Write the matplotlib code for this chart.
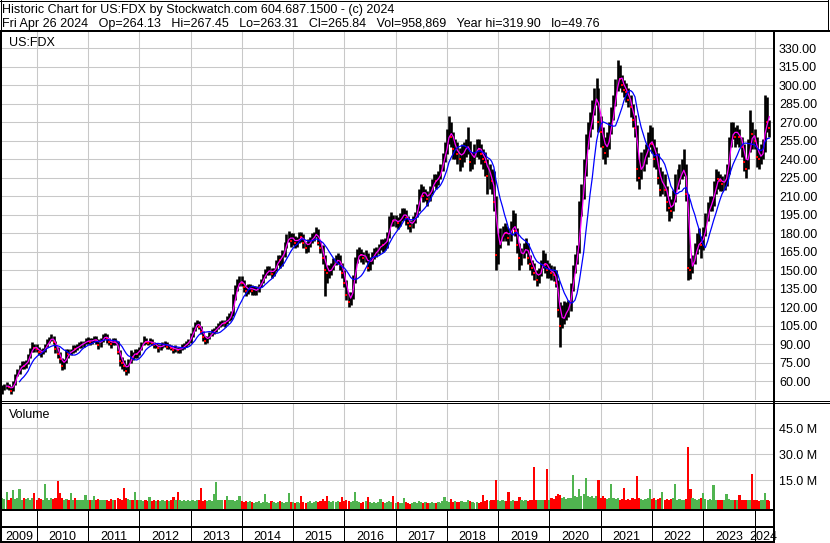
import numpy as np
import pandas as pd
import matplotlib
matplotlib.use("Agg")
import matplotlib.pyplot as plt
from matplotlib.lines import Line2D
from matplotlib.ticker import FuncFormatter

# semi-monthly bars (1st and 15th), May 2009 .. Apr 2024
dates = pd.date_range("2009-05-01", "2024-04-15", freq="SMS")

close = [
    55, 56, 57, 55, 52, 58, 65, 68, 71, 74, 72, 75, 80, 85, 89, 87,  # 2009
    86, 84, 83, 85, 88, 92, 94, 96, 92, 86, 82, 78, 72, 76, 84, 82, 84, 87, 86, 88, 90, 90, 91, 93,
    93, 92, 93, 95, 93, 89, 93, 96, 97, 94, 92, 90, 93, 92, 84, 76, 75, 72, 68, 76, 82, 80, 84, 82,
    86, 90, 94, 92, 91, 93, 91, 89, 89, 87, 88, 90, 91, 88, 88, 87, 85, 87, 85, 86, 88, 89, 91, 92,
    97, 102, 106, 108, 104, 100, 96, 93, 95, 98, 100, 101, 103, 105, 107, 108, 107, 110, 112, 114, 128, 135, 140, 142,
    140, 136, 133, 136, 136, 133, 134, 134, 137, 141, 145, 148, 150, 150, 147, 150, 156, 160, 158, 163, 170, 176, 178, 174,
    176, 172, 174, 178, 177, 172, 168, 172, 174, 177, 178, 182, 172, 168, 160, 150, 148, 150, 152, 156, 158, 160, 154, 148,
    140, 130, 124, 128, 142, 158, 162, 164, 162, 160, 162, 152, 158, 162, 164, 166, 168, 172, 170, 172, 178, 190, 192, 190,
    190, 188, 192, 196, 196, 192, 188, 186, 190, 194, 200, 212, 216, 210, 212, 208, 214, 220, 224, 222, 226, 232, 240, 248,
    256, 268, 258, 248, 250, 244, 240, 246, 248, 250, 252, 238, 240, 246, 252, 248, 244, 240, 238, 226, 228, 222, 205, 162,
    172, 178, 180, 182, 180, 176, 184, 190, 182, 170, 160, 162, 168, 170, 160, 155, 152, 148, 142, 148, 152, 160, 154, 150,
    150, 148, 146, 140, 118, 105, 112, 116, 118, 120, 135, 150, 158, 165, 198, 210, 230, 252, 262, 270, 280, 290, 296, 270,
    262, 250, 245, 255, 262, 275, 285, 298, 312, 305, 300, 296, 294, 288, 282, 272, 265, 232, 225, 238, 240, 246, 252, 258,
    252, 240, 240, 225, 215, 225, 215, 205, 200, 198, 210, 215, 225, 228, 230, 235, 212, 152, 150, 158, 165, 172, 175, 170,
    180, 192, 200, 204, 205, 215, 226, 224, 222, 220, 222, 230, 252, 262, 265, 258, 262, 258, 250, 238, 232, 248, 262, 260,
    255, 242, 240, 245, 248, 288, 270, 265,  # 2024
]

high = [
    57, 58, 59, 58, 56, 60, 66, 70, 73, 76, 76, 77, 82, 87, 92, 90,
    90, 88, 86, 87, 90, 94, 96, 98, 97, 93, 88, 84, 79, 78, 86, 86, 86, 89, 89, 90, 92, 93, 93, 95,
    96, 95, 95, 97, 97, 94, 95, 98, 99, 98, 95, 93, 95, 95, 93, 85, 80, 77, 74, 78, 85, 84, 86, 86,
    88, 92, 97, 95, 93, 95, 94, 92, 91, 90, 90, 92, 93, 92, 90, 89, 88, 89, 88, 88, 90, 91, 93, 94,
    99, 104, 108, 110, 109, 105, 101, 97, 97, 100, 102, 103, 105, 107, 109, 110, 110, 113, 115, 117, 131, 138, 143, 145,
    145, 142, 138, 139, 139, 138, 137, 137, 139, 143, 147, 151, 153, 153, 152, 152, 158, 162, 162, 166, 173, 179, 182, 180,
    180, 178, 177, 181, 181, 179, 173, 175, 177, 180, 181, 185, 183, 174, 170, 162, 154, 154, 156, 160, 162, 164, 162, 156,
    150, 142, 132, 132, 146, 161, 167, 169, 167, 165, 166, 164, 161, 165, 168, 169, 171, 175, 175, 176, 181, 194, 197, 195,
    195, 193, 196, 200, 200, 199, 194, 191, 194, 197, 204, 216, 220, 218, 216, 214, 218, 224, 228, 228, 230, 236, 245, 254,
    264, 275, 270, 262, 256, 254, 249, 252, 254, 256, 266, 255, 246, 252, 256, 256, 252, 248, 246, 240, 236, 232, 230, 210,
    180, 184, 186, 188, 186, 184, 190, 199, 196, 184, 172, 168, 172, 176, 172, 162, 158, 156, 150, 152, 158, 166, 164, 158,
    156, 154, 153, 150, 142, 124, 122, 125, 124, 126, 140, 154, 163, 170, 206, 220, 240, 260, 270, 278, 288, 298, 306, 298,
    275, 266, 258, 262, 270, 282, 292, 305, 320, 316, 308, 304, 302, 298, 292, 285, 276, 268, 240, 246, 248, 252, 262, 268,
    266, 256, 250, 245, 234, 230, 228, 218, 210, 208, 215, 228, 232, 236, 240, 248, 236, 212, 160, 162, 172, 180, 184, 178,
    185, 196, 205, 210, 210, 222, 232, 230, 228, 226, 228, 236, 258, 270, 270, 266, 268, 264, 258, 252, 240, 256, 280, 270,
    264, 258, 248, 252, 256, 292, 290, 272,
]

low = [
    50, 53, 54, 53, 50, 52, 57, 64, 66, 70, 70, 71, 74, 79, 84, 84,
    84, 81, 80, 82, 84, 88, 91, 93, 90, 83, 79, 75, 69, 70, 75, 79, 81, 83, 84, 85, 87, 87, 88, 90,
    90, 89, 90, 92, 90, 86, 88, 92, 94, 91, 89, 87, 89, 89, 82, 72, 70, 68, 65, 67, 75, 77, 79, 79,
    81, 85, 89, 90, 89, 90, 89, 87, 87, 84, 85, 87, 88, 86, 86, 85, 83, 84, 83, 83, 85, 86, 88, 89,
    91, 96, 101, 104, 102, 98, 93, 90, 91, 94, 97, 98, 100, 102, 104, 105, 104, 106, 109, 110, 113, 126, 133, 137,
    137, 132, 129, 131, 132, 130, 130, 130, 132, 136, 140, 144, 146, 146, 144, 145, 149, 154, 152, 153, 161, 168, 173, 169,
    170, 168, 169, 172, 173, 168, 164, 165, 169, 172, 174, 177, 170, 164, 155, 129, 140, 144, 146, 150, 154, 155, 150, 144,
    136, 126, 120, 122, 127, 140, 156, 159, 157, 155, 157, 149, 150, 155, 159, 161, 163, 166, 165, 166, 168, 176, 186, 186,
    185, 183, 186, 190, 191, 187, 183, 181, 184, 188, 193, 198, 209, 205, 206, 202, 206, 212, 218, 216, 219, 224, 230, 238,
    244, 252, 250, 240, 240, 236, 230, 234, 238, 242, 244, 230, 232, 236, 242, 240, 236, 232, 226, 212, 216, 212, 198, 150,
    155, 168, 174, 176, 174, 170, 174, 183, 178, 164, 150, 154, 160, 164, 155, 150, 146, 142, 137, 140, 145, 152, 148, 144,
    144, 142, 141, 136, 112, 88, 103, 106, 110, 112, 117, 133, 148, 155, 164, 194, 208, 226, 248, 258, 264, 276, 284, 262,
    250, 240, 236, 242, 248, 260, 272, 283, 295, 298, 294, 290, 286, 282, 274, 266, 258, 222, 216, 224, 230, 236, 242, 250,
    245, 234, 232, 220, 210, 212, 210, 198, 190, 192, 198, 205, 216, 220, 224, 226, 206, 142, 143, 148, 155, 163, 167, 160,
    166, 178, 190, 198, 198, 202, 212, 216, 214, 214, 215, 218, 228, 250, 256, 250, 252, 250, 242, 230, 225, 232, 246, 248,
    248, 234, 232, 236, 240, 246, 262, 258,
]

# peak daily volume in each half month, millions of shares
volume = [
    5, 4.5, 8.6, 4, 5, 9.4, 4.5, 5, 10, 4, 5, 4.5, 5, 4, 5, 7.7,
    4, 5, 4.5, 4, 12.8, 5, 4, 5, 4.5, 5, 14.7, 8, 5, 4, 4.5, 4, 7.5, 4, 5, 4, 3.5, 4, 3.5, 6.5,
    4, 3.5, 4, 6, 4, 4.6, 3.5, 4, 3.5, 4, 3, 4.5, 3.5, 4, 5, 4.5, 4, 10.9, 5, 4.5, 4, 3.5, 8.6, 3.5,
    3.5, 4, 3, 3.5, 3, 5.6, 3, 3.5, 3, 3.5, 3, 4, 3, 3.5, 3, 3.5, 5.6, 4, 8.6, 3.5, 3, 3.5, 3, 3.5,
    3, 3.5, 3, 4, 3.5, 10.9, 3, 3.5, 3, 3.5, 3, 7, 14.3, 4, 3.5, 4, 3.5, 5.8, 4, 3.5, 4, 3, 3.5, 5.8,
    3, 2.5, 3, 2.5, 3, 2.5, 2, 2.5, 3, 2, 2.5, 7, 2.5, 2, 3, 2.5, 2, 2.5, 3, 2.5, 2, 2.5, 8, 2.5,
    2.5, 2, 2.5, 2, 6, 2.5, 2, 2.5, 3, 2, 2.5, 3, 2.5, 3, 4.3, 3, 5.8, 3, 2.5, 3, 2.5, 3, 2.5, 5.2,
    3, 3.5, 3, 2.5, 3, 8.4, 3, 2.5, 2, 2.5, 3, 5.2, 2.5, 2, 2.5, 2, 2.5, 4.6, 2.5, 2, 2.5, 3, 2.5, 5.8,
    2, 2.5, 2, 2, 5, 2.5, 2, 1.5, 2, 2.5, 2, 3, 2.5, 2, 2.5, 2, 2, 2.5, 2, 2, 2.5, 2, 3, 5.2,
    3, 2.5, 4.6, 2.5, 3, 2.5, 2.5, 3, 2.5, 2.5, 3.7, 3, 2.5, 2, 2.5, 2, 2.5, 6.5, 3, 3.5, 3, 3.5, 4, 15,
    4, 3, 3.5, 3, 3, 8.6, 3, 3.5, 3, 3, 5.2, 3.5, 3, 3.5, 3, 4, 3.5, 22.6, 4, 3.5, 4, 3.5, 4, 21.3,
    4, 5, 4.5, 6, 7, 6.5, 5, 5.5, 4.5, 5, 5, 17.9, 6, 5.5, 10.3, 6, 7, 16.6, 6, 5.5, 6, 5, 6, 15,
    5, 6, 5, 4.5, 5, 12.8, 5, 4.5, 5, 4, 4.5, 10.9, 4, 4.5, 4, 5, 4.5, 17.3, 5, 4.5, 4, 4.5, 5, 10,
    4.5, 5, 4, 4.5, 5, 8.6, 4, 4.5, 4, 4.5, 5, 12.8, 4, 4.5, 3.5, 4, 4.5, 34, 10, 5, 4.5, 4, 4.5, 5,
    8, 4.5, 4, 4.5, 4, 12.2, 4, 3.5, 4, 3.5, 4, 7, 4.5, 4, 3.5, 4, 3.5, 6.5, 4, 3.5, 4, 3.5, 4, 18.5,
    4, 3.5, 3, 3.5, 4, 7.7, 3.5, 3,
]

years = list(range(2009, 2025))
price_ticks = list(range(60, 331, 15))
volume_ticks = [15, 30, 45]

title1 = "Historic Chart for US:FDX by Stockwatch.com 604.687.1500 - (c) 2024"
title2 = ("Fri Apr 26 2024   Op=264.13   Hi=267.45   Lo=263.31   Cl=265.84   "
          "Vol=958,869   Year hi=319.90   lo=49.76")

plt.rcParams['font.family'] = ['Liberation Sans', 'DejaVu Sans']
FS = 9
W, H = 830, 543
fig = plt.figure(figsize=(W / 100, H / 100), dpi=100, facecolor='white')


def box(x0, y0, x1, y1):
    # pixel box (top-left origin) -> figure fraction rect
    return [x0 / W, 1 - y1 / H, (x1 - x0) / W, (y1 - y0) / H]


def line(xs, ys, lw=1.0):
    fig.add_artist(Line2D([x / W for x in xs], [1 - y / H for y in ys],
                          color='black', lw=lw * 0.72, transform=fig.transFigure))


x0, x1 = pd.Timestamp("2009-04-29"), pd.Timestamp("2024-05-11")
year_starts = pd.to_datetime([f"{y}-01-01" for y in years[1:]])
grid_kw = dict(color='#c8c8c8', lw=0.75)

cl = np.array(close, float)
down = np.r_[False, cl[1:] < cl[:-1]]

# price panel
ax = fig.add_axes(box(2, 31, 773, 400))
ax.set_xlim(x0, x1)
ax.set_ylim(44.8, 343.8)
ax.set_xticks(year_starts)
ax.set_yticks(price_ticks)
ax.yaxis.tick_right()
ax.tick_params(length=0, labelbottom=False, labelsize=FS, pad=4.3)
ax.yaxis.set_major_formatter(FuncFormatter(lambda v, p: f"{v:.2f}"))
ax.grid(True, **grid_kw)
ax.set_axisbelow(True)
for s in ax.spines.values():
    s.set_visible(False)

ax.vlines(dates, low, high, colors='black', lw=1.9)
ax.plot(dates[down], cl[down], ls='none', marker='s', ms=1.6, mew=0, color='red')
ser = pd.Series(cl, index=dates)
ax.plot(dates, ser.rolling(3).mean(), color='#ff00ff', lw=0.9)
ax.plot(dates, ser.rolling(9).mean(), color='#0000ff', lw=0.9)

# volume panel
vol_floor = -1.7
av = fig.add_axes(box(2, 403, 773, 509.5))
av.set_xlim(x0, x1)
av.set_ylim(vol_floor, 59.5)
av.set_xticks(year_starts)
av.set_yticks(volume_ticks)
av.yaxis.tick_right()
av.tick_params(length=0, labelbottom=False, labelsize=FS, pad=4.3)
av.yaxis.set_major_formatter(FuncFormatter(lambda v, p: f"{v:.1f} M"))
av.grid(True, **grid_kw)
av.set_axisbelow(True)
for s in av.spines.values():
    s.set_visible(False)
vcol = np.where(down, '#ff0000', '#50b450')
av.bar(dates, np.array(volume) - vol_floor, bottom=vol_floor, width=16,
       color=vcol, linewidth=0)

# date strip
ad = fig.add_axes(box(2, 509.5, 773, 542.5))
ad.set_xlim(x0, x1)
ad.set_ylim(0, 1)
ad.axis('off')
ad.vlines(year_starts, 0, 1, colors='black', lw=0.72)
for y in years:
    a = max(x0, pd.Timestamp(f"{y}-01-01"))
    b = min(x1, pd.Timestamp(f"{y + 1}-01-01"))
    ad.text(a + (b - a) / 2, 0.08, str(y), ha='center', va='baseline',
            fontsize=FS, clip_on=False)

# header and labels
fig.text(2 / W, 1 - 13.3 / H, title1, fontsize=FS, va='baseline')
fig.text(2 / W, 1 - 27 / H, title2, fontsize=FS, va='baseline')
fig.text(9 / W, 1 - 46 / H, "US:FDX", fontsize=FS, va='baseline')
fig.text(9 / W, 1 - 418 / H, "Volume", fontsize=FS, va='baseline')

# frame lines
line([0, 828], [0.5, 0.5])
line([0.5, 0.5], [0, 31])
line([827.5, 827.5], [0, 31])
line([0, 830], [31, 31], lw=2)
line([1, 1], [31, 543], lw=2)
line([774, 774], [31, 543], lw=2)
line([0, 830], [400.5, 400.5])
line([0, 830], [402.5, 402.5])
line([0, 774], [509.8, 509.8], lw=2)
line([0, 774], [527, 527], lw=2)
line([0, 774], [542, 542], lw=2)

fig.savefig("out.png", dpi=100, facecolor='white')
